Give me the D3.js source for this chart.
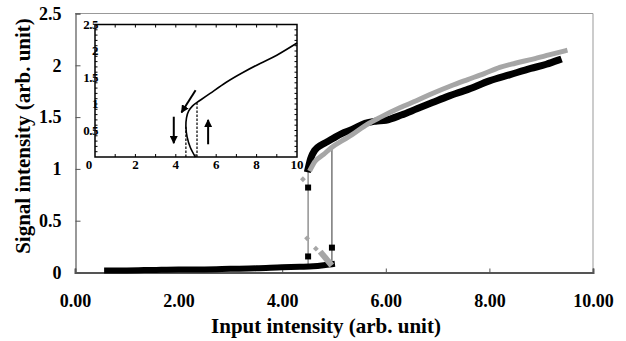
<!DOCTYPE html>
<html>
<head>
<meta charset="utf-8">
<script src="https://cdn.jsdelivr.net/npm/d3@7"></script>
<style>
  body { margin: 0; background: #fff; }
  text { font-family: "Liberation Serif", "Times New Roman", serif; font-weight: bold; }
</style>
</head>
<body>
<svg id="chart"></svg>
<script>
// main chart data
let blackLowX = [0.62, 1.0, 1.5, 2.0, 2.5, 3.0, 3.5, 4.0, 4.34, 4.6, 4.8, 4.96];
let blackLowY = [0.02, 0.02, 0.025, 0.03, 0.03, 0.035, 0.04, 0.05, 0.055, 0.06, 0.07, 0.08];
let blackHighX = [4.50, 4.55, 4.63, 4.75, 4.86, 5.0, 5.15, 5.35, 5.6, 5.8, 6.0, 6.3, 6.6, 6.9, 7.2, 7.6, 8.0, 8.4, 8.8, 9.1, 9.33];
let blackHighY = [1.00, 1.10, 1.18, 1.23, 1.26, 1.30, 1.34, 1.38, 1.44, 1.46, 1.47, 1.52, 1.58, 1.64, 1.70, 1.77, 1.85, 1.91, 1.97, 2.01, 2.05];
let grayHighX = [4.55, 4.63, 4.8, 4.96, 5.15, 5.35, 5.64, 5.9, 6.27, 6.6, 6.91, 7.25, 7.57, 7.9, 8.2, 8.5, 8.84, 9.15, 9.46];
let grayHighY = [1.00, 1.07, 1.14, 1.21, 1.27, 1.33, 1.43, 1.50, 1.59, 1.66, 1.73, 1.80, 1.86, 1.92, 1.98, 2.02, 2.06, 2.10, 2.14];
let grayTailX = [4.77, 4.92];
let grayTailY = [0.18, 0.09];
let blackJumpX = [4.50, 4.50, 4.96];
let blackJumpY = [0.82, 0.155, 0.24];
let grayJumpX = [4.40, 4.48, 4.65];
let grayJumpY = [0.90, 0.33, 0.23];
let downJumpX = [4.50, 4.50];
let downJumpY = [0.08, 1.0];
let upJumpX = [4.96, 4.96];
let upJumpY = [0.08, 1.2];
let xTicks = [0, 2, 4, 6, 8, 10];
let yTicks = [0, 0.5, 1, 1.5, 2, 2.5];

// inset data
let insetCurveX = [4.97, 4.72, 4.56, 4.5, 4.53, 4.64, 4.82, 5.05, 5.7, 6.5, 7.3, 8.2, 9.0, 10];
let insetCurveY = [0, 0.18, 0.38, 0.57, 0.74, 0.87, 0.96, 1.03, 1.2, 1.41, 1.59, 1.77, 1.92, 2.15];
let insetDashX = [4.5, 5.05];
let insetDashTop = [0.57, 1.03];
let insetXTicks = [0, 2, 4, 6, 8, 10];
let insetYTicks = [0.5, 1, 1.5, 2, 2.5];
// arrows: [x1, y1, x2, y2]
let insetArrows = [[3.9, 0.76, 3.9, 0.26], [5.6, 0.24, 5.6, 0.70], [4.98, 1.26, 4.28, 0.84]];

let w = 626;
let h = 341;
let svg = d3.select('#chart').attr('width', w).attr('height', h);

let x = d3.scaleLinear().domain([0, 10]).range([75, 593]);
let y = d3.scaleLinear().domain([0, 2.5]).range([272.5, 13.5]);

let zip = (xs, ys) => xs.map((v, i) => [v, ys[i]]);
let line = d3.line().x(d => x(d[0])).y(d => y(d[1]));

// frame
svg.append('line').attr('x1', x(0)).attr('x2', x(10)).attr('y1', y(2.5)).attr('y2', y(2.5))
  .attr('stroke', '#999').attr('stroke-width', 1);
svg.append('line').attr('x1', x(10)).attr('x2', x(10)).attr('y1', y(2.5)).attr('y2', y(0))
  .attr('stroke', '#999').attr('stroke-width', 1);

// axes
let xAxis = d3.axisBottom(x).tickValues(xTicks).tickSize(-4).tickPadding(22)
  .tickFormat(d3.format('.2f'));
let gx = svg.append('g').attr('transform', `translate(0,${y(0)})`).call(xAxis);
gx.select('.domain').attr('stroke', '#555').attr('stroke-width', 2);
gx.selectAll('.tick line').attr('stroke', '#555');
gx.selectAll('text').attr('font-size', 18).attr('fill', '#000')
  .style('font-family', '"Liberation Serif", serif');

let yAxis = d3.axisLeft(y).tickValues(yTicks).tickSize(-5).tickPadding(14)
  .tickFormat(d => d);
let gy = svg.append('g').attr('transform', `translate(${x(0) + 0.5},0)`).call(yAxis);
gy.select('.domain').attr('stroke', '#555').attr('stroke-width', 1.2);
gy.selectAll('.tick line').attr('stroke', '#555');
gy.selectAll('text').attr('font-size', 18).attr('fill', '#000')
  .style('font-family', '"Liberation Serif", serif');

// titles
svg.append('text').attr('x', 326).attr('y', 333).attr('text-anchor', 'middle')
  .attr('font-size', 21).text('Input intensity (arb. unit)');
svg.append('text').attr('transform', 'translate(30,136) rotate(-90)').attr('text-anchor', 'middle')
  .attr('font-size', 21).text('Signal intensity (arb. unit)');

// thin connecting lines at the jumps
svg.append('path').datum(zip(downJumpX, downJumpY)).attr('d', line)
  .attr('fill', 'none').attr('stroke', '#777').attr('stroke-width', 1.2);
svg.append('path').datum(zip(upJumpX, upJumpY)).attr('d', line)
  .attr('fill', 'none').attr('stroke', '#333').attr('stroke-width', 1);

// dense branches drawn as thick bands
let band = (xs, ys, color, width) => {
  svg.append('path').datum(zip(xs, ys)).attr('d', line.curve(d3.curveMonotoneX))
    .attr('fill', 'none').attr('stroke', color).attr('stroke-width', width)
    .attr('stroke-linecap', 'square').attr('stroke-linejoin', 'round');
  line.curve(d3.curveLinear);
};
band(blackLowX, blackLowY, '#000', 6);
band(grayTailX, grayTailY, '#a6a6a6', 6);
band(blackHighX, blackHighY, '#000', 7);
band(grayHighX, grayHighY, '#a6a6a6', 5);

// markers at the jumps
svg.selectAll('.sq').data(zip(blackJumpX, blackJumpY)).enter().append('rect')
  .attr('x', d => x(d[0]) - 3).attr('y', d => y(d[1]) - 3)
  .attr('width', 6).attr('height', 6).attr('fill', '#000');
svg.selectAll('.dm').data(zip(grayJumpX, grayJumpY)).enter().append('path')
  .attr('d', d3.symbol().type(d3.symbolDiamond2).size(22))
  .attr('transform', d => `translate(${x(d[0])},${y(d[1])})`)
  .attr('fill', '#a6a6a6');

// ---------- inset ----------
let ix = d3.scaleLinear().domain([0, 10]).range([95, 297]);
let iy = d3.scaleLinear().domain([0, 2.5]).range([157, 24.5]);
let ins = svg.append('g');
ins.append('rect').attr('x', ix(0)).attr('y', iy(2.5)).attr('width', ix(10) - ix(0))
  .attr('height', iy(0) - iy(2.5)).attr('fill', '#fff').attr('stroke', '#000').attr('stroke-width', 1.5);

// minor ticks on all sides
let ixMinor = d3.range(1, 10, 1);
let iyMinor = d3.range(1, 25, 1).map(v => v / 10);
ixMinor.forEach(v => {
  ins.append('line').attr('x1', ix(v)).attr('x2', ix(v)).attr('y1', iy(2.5)).attr('y2', iy(2.5) + 3).attr('stroke', '#000');
  ins.append('line').attr('x1', ix(v)).attr('x2', ix(v)).attr('y1', iy(0)).attr('y2', iy(0) - 3).attr('stroke', '#000');
});
iyMinor.forEach(v => {
  ins.append('line').attr('x1', ix(0)).attr('x2', ix(0) + 2.5).attr('y1', iy(v)).attr('y2', iy(v)).attr('stroke', '#000');
  ins.append('line').attr('x1', ix(10)).attr('x2', ix(10) - 2.5).attr('y1', iy(v)).attr('y2', iy(v)).attr('stroke', '#000');
});

ins.selectAll('.ixl').data(insetXTicks).enter().append('text')
  .attr('x', d => ix(d) - (d === 0 ? 6 : 0)).attr('y', 169).attr('text-anchor', 'middle')
  .attr('font-size', 13).text(d => d);
ins.selectAll('.iyl').data(insetYTicks).enter().append('text')
  .attr('x', 98).attr('y', d => iy(d) + 4).attr('text-anchor', 'end')
  .attr('font-size', 13).attr('letter-spacing', -0.5).text(d => d);

let iline = d3.line().x(d => ix(d[0])).y(d => iy(d[1])).curve(d3.curveNatural);
ins.append('path').datum(zip(insetCurveX, insetCurveY)).attr('d', iline)
  .attr('fill', 'none').attr('stroke', '#000').attr('stroke-width', 1.6);

insetDashX.forEach((v, i) => {
  ins.append('line').attr('x1', ix(v)).attr('x2', ix(v)).attr('y1', iy(0)).attr('y2', iy(insetDashTop[i]))
    .attr('stroke', '#000').attr('stroke-width', 1.2).attr('stroke-dasharray', '2.5,1.5');
});

svg.append('defs').append('marker').attr('id', 'arr').attr('viewBox', '0 0 10 10')
  .attr('refX', 9).attr('refY', 5).attr('markerWidth', 4).attr('markerHeight', 4)
  .attr('orient', 'auto').attr('markerUnits', 'strokeWidth')
  .append('path').attr('d', 'M0,0 L10,5 L0,10 z').attr('fill', '#000');
insetArrows.forEach(a => {
  ins.append('line').attr('x1', ix(a[0])).attr('y1', iy(a[1])).attr('x2', ix(a[2])).attr('y2', iy(a[3]))
    .attr('stroke', '#000').attr('stroke-width', 2).attr('marker-end', 'url(#arr)');
});
</script>
</body>
</html>
